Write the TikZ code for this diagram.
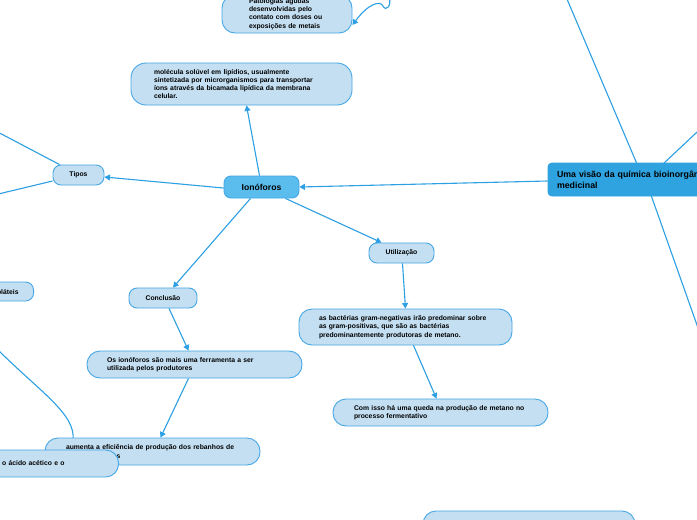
\documentclass[tikz,border=0pt]{standalone}
\usepackage{fontspec}
\setmainfont{Liberation Sans}
\usetikzlibrary{arrows.meta}
\definecolor{linec}{HTML}{2D9FE3}
\definecolor{lightc}{HTML}{C4DFF2}
\definecolor{borderc}{HTML}{45A7E6}
\definecolor{ionoc}{HTML}{5BBDEE}
\definecolor{mainc}{HTML}{2EA3DF}
\tikzset{
  txt/.style={font=\fontsize{6.8}{8.3}\selectfont\bfseries},
  topic/.style={draw=borderc, fill=lightc, line width=0.9pt, rounded corners=13pt, align=left, txt, inner ysep=0pt},
  small/.style={draw=borderc, fill=lightc, line width=0.9pt, rounded corners=8pt, txt, inner sep=0pt, minimum height=20pt, align=center},
  conn/.style={draw=linec, line width=1.1pt},
  arr/.style={conn, -{Triangle[length=5.5pt,width=6pt]}},
}
\begin{document}
\begin{tikzpicture}[x=1pt,y=-1pt]
\useasboundingbox (0,0) rectangle (697,520);
\clip (0,0) rectangle (697,520);
\fill[white] (0,0) rectangle (697,520);

% free connector ends
\coordinate (tA) at (-10,128);
\coordinate (tB) at (-10,196);
\coordinate (cA) at (-5,347);
\coordinate (mA) at (564,-8);
\coordinate (mB) at (712,118);
\coordinate (mC) at (703,342);
\coordinate (pA) at (389,-4);

% lines drawn under nodes
\draw[conn] (cA) .. controls (40,392) and (76,414) .. (73,440);
\draw[conn] (637,164) -- (mA);
\draw[conn] (663,164) -- (mB);
\draw[conn] (651,195) -- (mC);

% nodes
\node[topic, minimum height=38pt, text width=76pt, inner xsep=27pt] (patol) at (287,14)
  {Patologias agudas\\desenvolvidas pelo\\contato com doses ou\\exposições de metais};
\node[topic, minimum height=42pt, text width=175pt, inner xsep=23pt, rounded corners=15pt] (molec) at (241.5,84)
  {molécula solúvel em lipídios, usualmente\\sintetizada por microrganismos para transportar\\íons através da bicamada lipídica da membrana\\celular.};
\node[draw=borderc, fill=ionoc, line width=0.9pt, rounded corners=7pt, minimum width=75pt, minimum height=22pt, inner sep=0pt,
  font=\fontsize{8.6}{10}\selectfont\bfseries] (iono) at (261.5,187) {Ionóforos};
\node[small, minimum width=51pt] (tipos) at (78.5,175) {Tipos};
\node[draw=mainc, fill=mainc, line width=0.9pt, rounded corners=4pt, minimum height=33pt, text width=194pt, inner xsep=9pt, inner ysep=0pt,
  align=left, font=\fontsize{8.8}{10.8}\selectfont\bfseries] (main) at (654,179.5) {Uma visão da química bioinorgânica\\medicinal};
\node[small, minimum width=65pt] (util) at (401.5,253) {Utilização};
\node[topic, minimum height=36pt, text width=173pt, inner xsep=20pt] (bact) at (405.5,327)
  {as bactérias gram-negativas irão predominar sobre\\as gram-positivas, que são as bactérias\\predominantemente produtoras de metano.};
\node[topic, minimum height=27pt, text width=173pt, inner xsep=21pt] (comisso) at (440.5,412.5)
  {Com isso há uma queda na produção de metano no\\processo fermentativo};
\node[small, minimum width=68pt] (concl) at (163,298) {Conclusão};
\node[topic, minimum height=27pt, text width=175pt, inner xsep=20pt] (osion) at (194.5,364.5)
  {Os ionóforos são mais uma ferramenta a ser\\utilizada pelos produtores};
\node[topic, minimum height=27pt, text width=173pt, inner xsep=21pt] (aument) at (152.5,451.5)
  {aumenta a eficiência de produção dos rebanhos de\\bovinos leiteiros};
\node[topic, anchor=east, minimum height=27pt, text width=200pt, inner xsep=54pt, align=right] (acido) at (119,463.5)
  {relação entre o ácido acético e o};
\node[small, anchor=east, minimum height=19pt, inner xsep=15pt] (volat) at (34,291.5) {Ácidos Graxos Voláteis};
\node[topic, minimum width=212pt, minimum height=40pt, inner sep=0pt] (bottom) at (529,531) {};

% connectors
\draw[conn] ([xshift=7pt]tipos.north west) -- (tA);
\draw[conn] ([yshift=-6pt]tipos.west) -- (tB);
\draw[arr] ([xshift=-2pt]iono.north) -- ([xshift=5pt]molec.south);
\draw[arr] ([yshift=-1pt]iono.west) -- ([yshift=-2pt]tipos.east);
\draw[arr] ([yshift=-1.5pt]main.west) -- (iono.east);
\draw[arr] ([xshift=-11pt]iono.south) -- ([xshift=10pt]concl.north);
\draw[arr] ([xshift=24pt]iono.south) -- ([xshift=-20pt]util.north);
\draw[arr] ([xshift=1pt]util.south) -- (bact.north);
\draw[arr] ([xshift=8pt]bact.south) -- ([xshift=-4pt]comisso.north);
\draw[arr] ([xshift=6pt]concl.south) -- ([xshift=-6pt]osion.north);
\draw[arr] ([xshift=-6pt]osion.south) -- ([xshift=8pt]aument.north);
\draw[arr] (pA) .. controls (392,6) and (386,12) .. (383,6) .. controls (380,0) and (368,4) .. ([yshift=-11pt]patol.east);
\end{tikzpicture}
\end{document}
